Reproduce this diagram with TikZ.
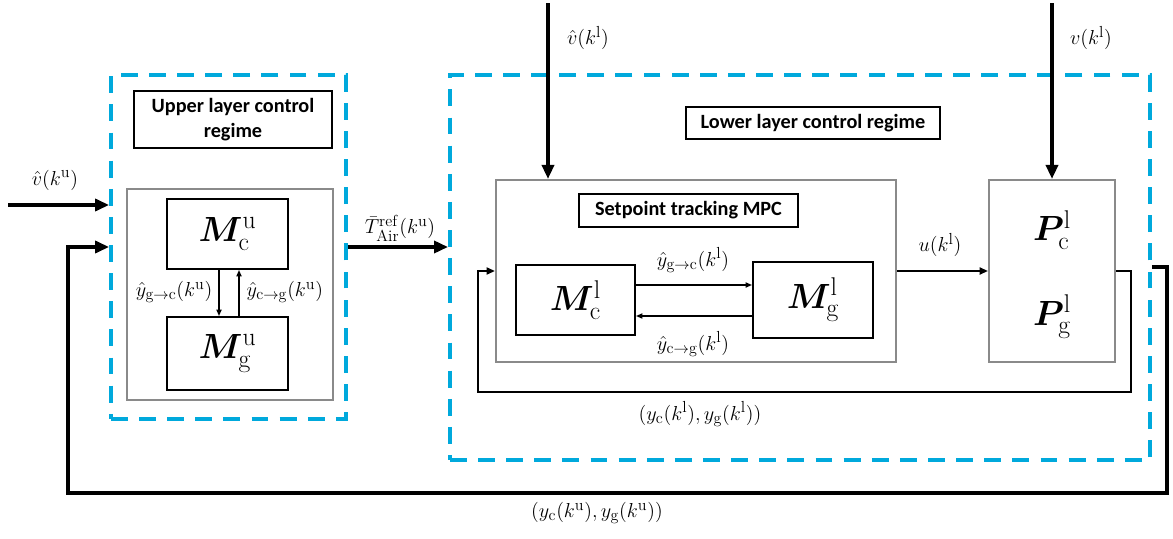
\documentclass[tikz,border=0pt]{standalone}
\usepackage{amsmath,bm}
\usepackage{fontspec}
\newfontfamily\titlefont{Carlito}
\usetikzlibrary{arrows.meta}
\renewcommand\defaultscriptratio{.76}
\definecolor{dashblue}{HTML}{00A9DC}
\definecolor{boxgray}{HTML}{8A8A8A}
\begin{document}
\begin{tikzpicture}[x=0.025cm,y=-0.025cm,
  dashbox/.style={draw=dashblue,line width=2.6pt,dash pattern=on 12pt off 8pt,rectangle,inner sep=0pt},
  titlebox/.style={draw=black,line width=0.9pt,rectangle,inner sep=0pt,font=\titlefont\bfseries\fontsize{14.4}{18}\selectfont,align=center},
  graybox/.style={draw=boxgray,line width=1.4pt,rectangle,inner sep=0pt},
  mbox/.style={draw=black,line width=1.4pt,rectangle,inner sep=0pt,font=\fontsize{24}{28}\selectfont},
  big/.style={line width=2.6pt,-{Triangle[length=10pt,width=8.5pt]}},
  small/.style={line width=1pt,-{Triangle[length=4.5pt,width=3.6pt]}},
  mid/.style={line width=1.4pt,-{Triangle[length=6pt,width=5pt]}},
  lbl/.style={inner sep=1pt,font=\fontsize{15}{17}\selectfont},
  plab/.style={inner sep=0pt,font=\fontsize{24}{28}\selectfont}]
\useasboundingbox (0,0) rectangle (1173,539);

% dashed regions
\node[dashbox,minimum width=5.875cm,minimum height=8.6cm] (udash) at (228.5,247) {};
\node[dashbox,minimum width=17.5cm,minimum height=9.625cm] (ldash) at (800,267.5) {};

% upper layer
\node[titlebox,minimum width=4.95cm,minimum height=1.425cm] (utitle) at (233,119.5) {Upper layer control\\regime};
\node[graybox,minimum width=5.15cm,minimum height=5.275cm] (ugray) at (230,294.5) {};
\node[mbox,minimum width=3.025cm,minimum height=1.75cm] (Mcu) at (227.5,234) {$\bm{M}_{\mathrm{c}}^{\mathrm{u}}$};
\node[mbox,minimum width=3.025cm,minimum height=1.825cm] (Mgu) at (227.5,353.5) {$\bm{M}_{\mathrm{g}}^{\mathrm{u}}$};
\coordinate (du) at (219,0);
\coordinate (uu) at (239,0);
\draw[small] (Mcu.south -| du) -- (Mgu.north -| du);
\draw[small] (Mgu.north -| uu) -- (Mcu.south -| uu);
\node[lbl,anchor=east] (lyguc) at (214,292) {$\hat{y}_{\mathrm{g}\rightarrow\mathrm{c}}(k^{\mathrm{u}})$};
\node[lbl,anchor=west] (lycgu) at (245,292) {$\hat{y}_{\mathrm{c}\rightarrow\mathrm{g}}(k^{\mathrm{u}})$};

% lower layer
\node[titlebox,minimum width=6.35cm,minimum height=0.8cm] (ltitle) at (813,123) {Lower layer control regime};
\node[graybox,minimum width=10cm,minimum height=4.55cm] (sgray) at (696,271) {};
\node[titlebox,minimum width=5.475cm,minimum height=0.825cm] (stitle) at (688.5,210.5) {Setpoint tracking MPC};
\node[mbox,minimum width=2.975cm,minimum height=1.75cm] (Mcl) at (575.5,300) {$\bm{M}_{\mathrm{c}}^{\mathrm{l}}$};
\node[mbox,minimum width=3cm,minimum height=1.9cm] (Mgl) at (813,300) {$\bm{M}_{\mathrm{g}}^{\mathrm{l}}$};
\coordinate (ra) at (0,285);
\coordinate (la) at (0,316);
\draw[small] (Mcl.east |- ra) -- (Mgl.west |- ra);
\draw[small] (Mgl.west |- la) -- (Mcl.east |- la);
\node[lbl] (lygcl) at (693,260) {$\hat{y}_{\mathrm{g}\rightarrow\mathrm{c}}(k^{\mathrm{l}})$};
\node[lbl] (lycgl) at (693,344) {$\hat{y}_{\mathrm{c}\rightarrow\mathrm{g}}(k^{\mathrm{l}})$};

\node[graybox,minimum width=3.15cm,minimum height=4.55cm] (P) at (1052,271) {};
\node[plab] (Pc) at (1052,230) {$\bm{P}_{\mathrm{c}}^{\mathrm{l}}$};
\node[plab] (Pg) at (1052,317) {$\bm{P}_{\mathrm{g}}^{\mathrm{l}}$};

% inputs
\coordinate (vuin) at (8,205);
\draw[big] (vuin) -- (udash.west |- vuin);
\node[lbl] (lvu) at (55,180) {$\hat{v}(k^{\mathrm{u}})$};

\coordinate (vlin) at (548,3);
\draw[big] (vlin) -- (sgray.north -| vlin);
\node[lbl] (lvl) at (588,38) {$\hat{v}(k^{\mathrm{l}})$};

\coordinate (vin) at (1052,3);
\draw[big] (vin) -- (P.north);
\node[lbl] (lv) at (1091,38) {$v(k^{\mathrm{l}})$};

% T ref
\draw[big] (udash.east) -- (ldash.west |- udash.east);
\node[lbl] (lT) at (400,228) {$\bar{T}_{\mathrm{Air}}^{\mathrm{ref}}(k^{\mathrm{u}})$};

% u
\draw[mid] (sgray.east) -- (P.west);
\node[lbl] (lu) at (940,245) {$u(k^{\mathrm{l}})$};

% inner feedback
\coordinate (if1) at (1131,392);
\coordinate (if2) at (478,392);
\draw[mid] (P.east) -| (if1) -- (if2) |- (sgray.west);
\node[lbl] (lyl) at (700,414) {$(y_{\mathrm{c}}(k^{\mathrm{l}}),y_{\mathrm{g}}(k^{\mathrm{l}}))$};

% outer feedback
\coordinate (of0) at (0,267);
\coordinate (of1) at (1167,493);
\coordinate (of2) at (68,493);
\coordinate (of3) at (0,247);
\draw[big] (ldash.east |- of0) -| (of1) -- (of2) |- (udash.west |- of3);
\node[lbl] (lyu) at (597,513) {$(y_{\mathrm{c}}(k^{\mathrm{u}}),y_{\mathrm{g}}(k^{\mathrm{u}}))$};
\end{tikzpicture}
\end{document}
